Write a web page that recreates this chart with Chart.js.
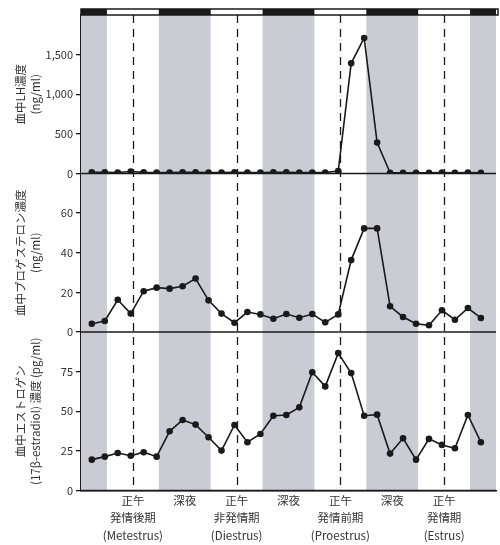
<!DOCTYPE html>
<html>
<head>
<meta charset="utf-8">
<script src="https://cdn.jsdelivr.net/npm/chart.js@4.4.1/dist/chart.umd.min.js"></script>
<style>
  html, body { margin: 0; padding: 0; background: #fff; }
  #wrap { width: 500px; height: 545px; }
</style>
</head>
<body>
<div id="wrap"><canvas id="hormoneChart"></canvas></div>
<script>
// sampling times (hours from the first midnight), every 3 h
const sampleHours = [2.5, 5.5, 8.5, 11.5, 14.5, 17.5, 20.5, 23.5, 26.5, 29.5, 32.5, 35.5,
  38.5, 41.5, 44.5, 47.5, 50.5, 53.5, 56.5, 59.5, 62.5, 65.5, 68.5, 71.5,
  74.5, 77.5, 80.5, 83.5, 86.5, 89.5, 92.5];

// blood LH (ng/ml)
const lhValues = [15, 15, 12, 25, 15, 12, 12, 15, 15, 12, 12, 15,
  12, 12, 15, 15, 12, 12, 12, 30, 1390, 1710, 390, 10,
  10, 10, 10, 12, 10, 12, 10];

// blood progesterone (ng/ml)
const progesteroneValues = [4.2, 5.6, 16.3, 9.3, 20.6, 22.4, 21.9, 23.1, 27, 16, 9.3, 4.7,
  10.1, 8.9, 6.7, 9.1, 7.2, 9.1, 4.9, 8.9, 36.3, 52.3, 52.3, 13,
  7.6, 4.2, 3.4, 11, 6.2, 12.1, 7.1];

// blood estrogen, 17beta-estradiol (pg/ml)
const estradiolValues = [19.5, 21.4, 23.7, 22, 24.2, 21.4, 37.4, 44.5, 41.6, 33.6, 25.2, 41.4,
  30.5, 35.7, 47.2, 47.7, 52.5, 74.6, 65.7, 86.7, 74.1, 47.2, 47.9, 23.3,
  33, 19.5, 32.6, 28.8, 26.7, 47.7, 30.5];

// x axis labels
const tickHours = [12, 24, 36, 48, 60, 72, 84];
const tickNames = ['正午', '深夜', '正午', '深夜', '正午', '深夜', '正午'];
const stageNames = ['発情後期', '非発情期', '発情前期', '発情期'];
const stageLatin = ['(Metestrus)', '(Diestrus)', '(Proestrus)', '(Estrus)'];

// dark phases (lights off)
const darkPeriods = [[0, 6], [18, 30], [42, 54], [66, 78], [90, 96]];
const noonHours = [12, 36, 60, 84];

const FONT = "'Noto Sans CJK JP', 'Noto Sans', sans-serif";
const INK = '#1a1a1a';
const TEXT = '#333';

const lightDarkPlugin = {
  id: 'lightDark',
  beforeDatasetsDraw(chart) {
    const { ctx, chartArea: a, scales } = chart;
    const x = scales.x;
    ctx.save();
    ctx.fillStyle = '#c9ccd4';
    darkPeriods.forEach(([s, e]) => {
      const x0 = x.getPixelForValue(s);
      const x1 = x.getPixelForValue(e);
      ctx.fillRect(x0, a.top, x1 - x0, a.bottom - a.top);
    });

    ctx.strokeStyle = INK;
    ctx.lineWidth = 1.3;
    ctx.setLineDash([8, 6]);
    noonHours.forEach(h => {
      const px = Math.round(x.getPixelForValue(h)) + 0.5;
      ctx.beginPath();
      ctx.moveTo(px, a.top);
      ctx.lineTo(px, a.bottom);
      ctx.stroke();
    });
    ctx.setLineDash([]);

    // panel separators and bottom axis line
    ctx.lineWidth = 1.6;
    ['yLH', 'yProg', 'yE2'].forEach(id => {
      const py = scales[id].getPixelForValue(0);
      ctx.beginPath();
      ctx.moveTo(a.left, py);
      ctx.lineTo(a.right, py);
      ctx.stroke();
    });
    ctx.restore();
  },
  afterDraw(chart) {
    const { ctx, chartArea: a, scales } = chart;
    const x = scales.x;
    const top = a.top - 6;
    ctx.save();
    ctx.fillStyle = '#fff';
    ctx.fillRect(a.left, top, a.right - a.left, 6);
    ctx.fillStyle = INK;
    darkPeriods.forEach(([s, e]) => {
      const x0 = x.getPixelForValue(s);
      const x1 = x.getPixelForValue(e);
      ctx.fillRect(x0, top, x1 - x0, 6);
    });
    ctx.strokeStyle = INK;
    ctx.lineWidth = 1.5;
    ctx.strokeRect(a.left, top, a.right - a.left + 2, 6);
    ctx.restore();
  }
};

function yScale(max, step, titleLines) {
  return {
    type: 'linear',
    position: 'left',
    stack: 'hormones',
    stackWeight: 1,
    min: 0,
    max: max,
    afterBuildTicks(scale) {
      scale.ticks = scale.ticks.filter(t => t.value < max);
    },
    afterFit(scale) {
      scale.width = 81;
    },
    ticks: {
      stepSize: step,
      color: TEXT,
      font: { family: FONT, size: 11 },
      padding: 3,
      callback: v => v.toLocaleString('en-US')
    },
    grid: {
      drawOnChartArea: false,
      drawTicks: true,
      tickLength: 5,
      color: INK,
      lineWidth: 1.3
    },
    border: { display: true, color: INK, width: 1.6 },
    title: {
      display: true,
      text: titleLines,
      color: TEXT,
      font: { family: FONT, size: 11.5, lineHeight: 1.3 },
      padding: { top: 13, bottom: 0 }
    }
  };
}

const points = vals => vals.map((v, i) => ({ x: sampleHours[i], y: v }));

const lineStyle = {
  borderColor: INK,
  backgroundColor: INK,
  borderWidth: 1.6,
  pointRadius: 3.3,
  pointBorderWidth: 0,
  pointBackgroundColor: INK,
  tension: 0
};

const ctx = document.getElementById('hormoneChart').getContext('2d');
const hormoneChart = new Chart(ctx, {
  type: 'line',
  data: {
    datasets: [
      Object.assign({ label: 'LH', data: points(lhValues), yAxisID: 'yLH' }, lineStyle),
      Object.assign({ label: 'Progesterone', data: points(progesteroneValues), yAxisID: 'yProg' }, lineStyle),
      Object.assign({ label: 'Estradiol', data: points(estradiolValues), yAxisID: 'yE2' }, lineStyle)
    ]
  },
  options: {
    responsive: true,
    maintainAspectRatio: false,
    animation: false,
    layout: { padding: { top: 15, right: 0, left: 0, bottom: 0 } },
    plugins: { legend: { display: false }, tooltip: { enabled: false } },
    scales: {
      x: {
        type: 'linear',
        min: 0,
        max: 96,
        afterBuildTicks(scale) {
          scale.ticks = tickHours.map(h => ({ value: h }));
        },
        ticks: {
          autoSkip: false,
          maxRotation: 0,
          color: TEXT,
          padding: 1,
          font: { family: FONT, size: 11.5, lineHeight: 1.52 },
          callback(value, index) {
            const name = tickNames[index];
            if (name === '正午') {
              const k = noonHours.indexOf(value);
              return [name, stageNames[k], stageLatin[k]];
            }
            return name;
          }
        },
        grid: { drawOnChartArea: false, drawTicks: false },
        border: { display: true, color: INK, width: 1.6 }
      },
      yE2: yScale(100, 25, ['血中エストロゲン', '(17β-estradiol) 濃度 (pg/ml)']),
      yProg: yScale(80, 20, ['血中プロゲステロン濃度', '(ng/ml)']),
      yLH: yScale(2000, 500, ['血中LH濃度', '(ng/ml)'])
    }
  },
  plugins: [lightDarkPlugin]
});
</script>
</body>
</html>
